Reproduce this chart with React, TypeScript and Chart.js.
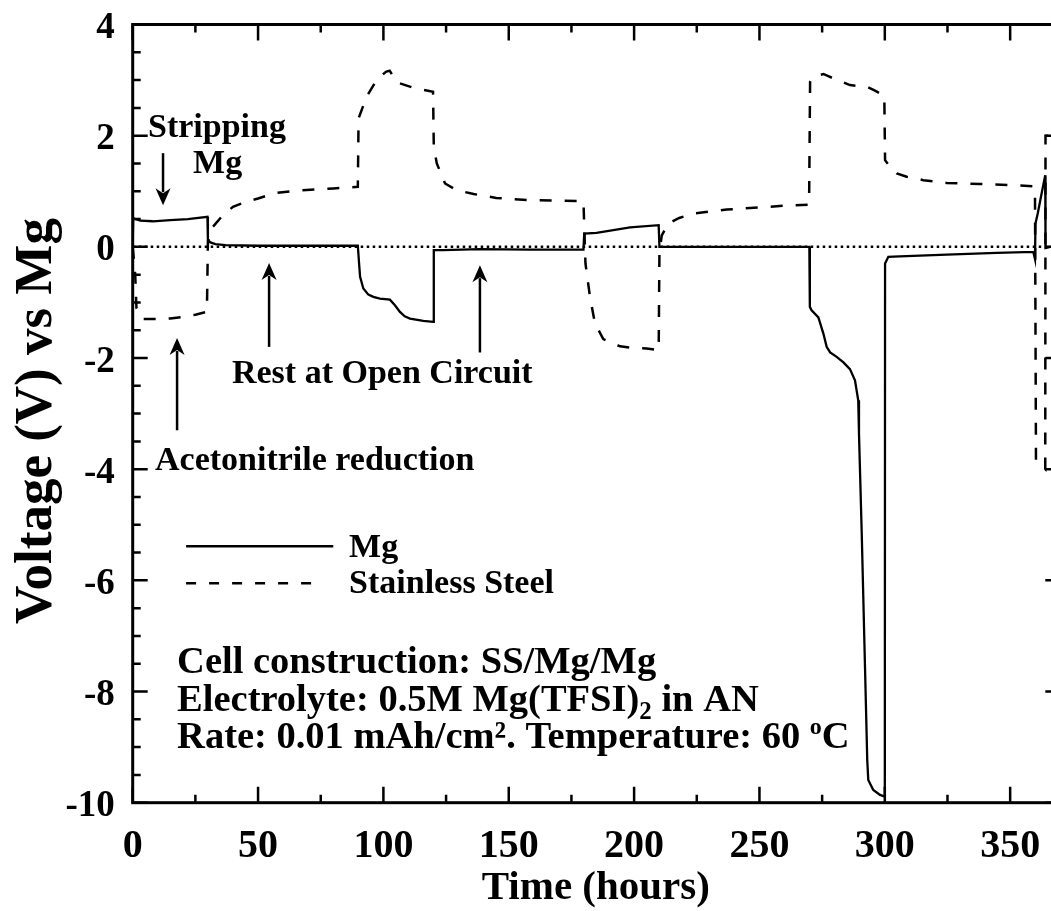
import { useEffect, useRef } from "react";
import { Chart, registerables } from "chart.js";

Chart.register(...registerables);

// Axis ranges and tick layout
const X_MIN = 0;
const X_MAX = 370;
const Y_MIN = -10;
const Y_MAX = 4;
const X_MAJOR = 50;
const X_MINOR = 25;
const Y_MAJOR = 2;
const Y_MINOR = 0.5;
const xTickLabels = [0, 50, 100, 150, 200, 250, 300, 350];
const yTickLabels = [-10, -8, -6, -4, -2, 0, 2, 4];

// Mg electrode potential (V vs Mg) over time (hours)
const mgTime = [
  0, 0.2, 1, 3, 8, 15, 22, 29.8, 30, 31, 33, 37, 50, 70, 89.8,
  90.3, 90.7, 92, 94, 96, 98.6, 102.6, 104.6, 106.6, 108.5, 110.6, 115.9, 119.9,
  120.1, 123.9, 138.5, 158.5, 179.8,
  180.1, 185, 191.7, 198.4, 209.8,
  210.1, 240, 269.9,
  270.1, 270.8, 273.5, 275.5, 276.8, 278.2, 280.8, 283.5, 286.1, 288.1, 289.4,
  289.7, 290.8, 292.1, 293.0, 293.4, 295.4, 298.1, 300.0,
  300.1, 301.4, 306, 324.7, 344.6, 359.2, 359.9,
  360.1, 361, 362.5, 364, 364.1, 366,
];
const mgVoltage = [
  0, 0.52, 0.5, 0.47, 0.46, 0.48, 0.5, 0.54, 0.12, 0.08, 0.05, 0.03, 0.02, 0.02, 0.02,
  -0.3, -0.54, -0.75, -0.86, -0.9, -0.93, -0.95, -1.05, -1.17, -1.25, -1.29, -1.33, -1.35,
  -0.06, -0.06, -0.04, -0.05, -0.05,
  0.24, 0.25, 0.3, 0.35, 0.39,
  0.0, 0.0, 0.0,
  -1.08, -1.14, -1.27, -1.56, -1.8, -1.9, -1.98, -2.08, -2.2, -2.4, -2.76,
  -3.36, -5.16, -7.56, -9.24, -9.59, -9.77, -9.86, -9.89,
  -0.3, -0.18, -0.17, -0.14, -0.11, -0.09, -0.22,
  0.42, 0.6, 0.95, 1.29, -0.02, 0.0,
];

// Stainless steel electrode potential (V vs Mg) over time (hours)
const ssTime = [
  0, 1.0, 1.5, 4, 10, 15, 20, 25, 29.6,
  30, 32, 36, 40, 45, 50, 57, 65, 80, 89.8,
  90.1, 93.3, 97.3, 101, 102.5, 105.3, 112, 119.8,
  120.1, 121.3, 124.6, 129.2, 136, 145, 158.5, 170, 179.8,
  180.6, 182.4, 184.4, 187.7, 194.4, 200, 205, 209.8,
  210.1, 211, 213.6, 218, 223.6, 237, 250.2, 260, 269.8,
  270.2, 271.5, 275.5, 279.5, 286.1, 292.8, 296.1, 299.8,
  300.1, 302.1, 304.8, 308.7, 315.4, 324.7, 338, 351.3, 359.2,
  359.9, 360.3, 364.0, 364.1, 370,
];
const ssVoltage = [
  0, -0.5, -1.1, -1.3, -1.3, -1.29, -1.26, -1.22, -1.17,
  0.1, 0.36, 0.57, 0.72, 0.81, 0.87, 0.97, 1.01, 1.05, 1.08,
  2.31, 2.7, 3.0, 3.15, 3.17, 2.96, 2.86, 2.79,
  1.8, 1.5, 1.14, 1.02, 0.95, 0.88, 0.84, 0.83, 0.82,
  -0.3, -0.9, -1.38, -1.66, -1.79, -1.82, -1.83, -1.86,
  -0.11, 0.2, 0.42, 0.52, 0.6, 0.67, 0.71, 0.74, 0.76,
  2.97, 3.06, 3.11, 3.03, 2.91, 2.88, 2.81, 2.72,
  1.56, 1.44, 1.32, 1.26, 1.2, 1.15, 1.13, 1.11, 1.09,
  1.05, -3.84, -4.0, 2.0, 2.0,
];

const seriesNames = ["Mg", "Stainless Steel"];

const SERIF = '"Liberation Serif", "Times New Roman", Times, serif';
const boldFont = (size: number) => `bold ${size}px ${SERIF}`;

const CANVAS_W = 1066;
const CANVAS_H = 911;

const SOLID_WIDTH = 2.3;
const DASH_WIDTH = 2.5;
const DASH_PATTERN = [12, 13];

type Run = { t: string; size: number; dy?: number };

function drawRuns(ctx: CanvasRenderingContext2D, x0: number, y0: number, runs: Run[]) {
  let x = x0;
  ctx.textAlign = "left";
  ctx.textBaseline = "alphabetic";
  for (const r of runs) {
    ctx.font = boldFont(r.size);
    ctx.fillText(r.t, x, y0 + (r.dy || 0));
    x += ctx.measureText(r.t).width;
  }
}

function drawArrow(ctx: CanvasRenderingContext2D, x: number, yTail: number, yTip: number) {
  const dir = yTip > yTail ? 1 : -1;
  const headLen = 17;
  const halfW = 7.5;
  ctx.beginPath();
  ctx.moveTo(x, yTail);
  ctx.lineTo(x, yTip - dir * (headLen - 4));
  ctx.stroke();
  ctx.beginPath();
  ctx.moveTo(x, yTip);
  ctx.lineTo(x - halfW, yTip - dir * headLen);
  ctx.lineTo(x, yTip - dir * (headLen - 5));
  ctx.lineTo(x + halfW, yTip - dir * headLen);
  ctx.closePath();
  ctx.fill();
}

const frameAndLabels = {
  id: "frameAndLabels",
  afterDraw(chart: any) {
    const { ctx, chartArea: a } = chart;
    const xs = chart.scales.x;
    const ys = chart.scales.y;
    const xp = (v: number) => xs.getPixelForValue(v);
    const yp = (v: number) => ys.getPixelForValue(v);

    ctx.save();
    ctx.strokeStyle = "#000";
    ctx.fillStyle = "#000";
    ctx.setLineDash([]);

    // plot frame
    ctx.lineWidth = 3;
    ctx.strokeRect(a.left, a.top, a.right - a.left, a.bottom - a.top);

    // inward ticks on all four sides
    ctx.lineWidth = 2.5;
    ctx.beginPath();
    for (let v = X_MIN; v <= X_MAX + 1e-6; v += X_MINOR) {
      const len = Math.abs(v % X_MAJOR) < 1e-6 ? 16 : 8;
      const px = xp(v);
      ctx.moveTo(px, a.bottom);
      ctx.lineTo(px, a.bottom - len);
      ctx.moveTo(px, a.top);
      ctx.lineTo(px, a.top + len);
    }
    for (let v = Y_MIN; v <= Y_MAX + 1e-6; v += Y_MINOR) {
      const len = Math.abs(v % Y_MAJOR) < 1e-6 ? 15 : 8;
      const py = yp(v);
      ctx.moveTo(a.left, py);
      ctx.lineTo(a.left + len, py);
      ctx.moveTo(a.right, py);
      ctx.lineTo(a.right - len, py);
    }
    ctx.stroke();

    // tick labels
    ctx.font = boldFont(40);
    ctx.textAlign = "center";
    ctx.textBaseline = "alphabetic";
    for (const v of xTickLabels) ctx.fillText(String(v), xp(v), a.bottom + 54);
    ctx.font = boldFont(37);
    ctx.textAlign = "right";
    for (const v of yTickLabels) ctx.fillText(String(v), a.left - 18, yp(v) + 13.5);

    // axis titles
    ctx.font = boldFont(41);
    ctx.textAlign = "center";
    ctx.fillText("Time (hours)", (a.left + 1051) / 2 + 4, 899);
    ctx.save();
    ctx.translate(51, 421);
    ctx.rotate(-Math.PI / 2);
    ctx.font = boldFont(53);
    ctx.fillText("Voltage (V) vs Mg", 0, 0);
    ctx.restore();

    // annotations
    drawRuns(ctx, xp(6.1), yp(1.97), [{ t: "Stripping", size: 34 }]);
    drawRuns(ctx, xp(24.1), yp(1.325), [{ t: "Mg", size: 34 }]);
    drawRuns(ctx, xp(39.6), yp(-2.45), [{ t: "Rest at Open Circuit", size: 34 }]);
    drawRuns(ctx, xp(8.9), yp(-4.02), [{ t: "Acetonitrile reduction", size: 34 }]);

    ctx.lineWidth = 2.5;
    drawArrow(ctx, xp(12.1), yp(1.685), yp(0.75));
    drawArrow(ctx, xp(17.7), yp(-3.3), yp(-1.64));
    drawArrow(ctx, xp(54.4), yp(-1.8), yp(-0.29));
    drawArrow(ctx, xp(138.5), yp(-1.9), yp(-0.33));

    // legend
    ctx.lineWidth = SOLID_WIDTH + 0.2;
    ctx.beginPath();
    ctx.moveTo(xp(21.3), yp(-5.385));
    ctx.lineTo(xp(80), yp(-5.385));
    ctx.stroke();
    ctx.lineWidth = DASH_WIDTH;
    ctx.setLineDash([10, 13]);
    ctx.beginPath();
    ctx.moveTo(xp(21.3), yp(-6.05));
    ctx.lineTo(xp(76), yp(-6.05));
    ctx.stroke();
    ctx.setLineDash([]);
    drawRuns(ctx, xp(86.3), yp(-5.58), [{ t: seriesNames[0], size: 34 }]);
    drawRuns(ctx, xp(86.3), yp(-6.23), [{ t: seriesNames[1], size: 34 }]);

    // cell information
    drawRuns(ctx, xp(17.7), yp(-7.67), [{ t: "Cell construction: SS/Mg/Mg", size: 38.5 }]);
    drawRuns(ctx, xp(17.7), yp(-8.35), [
      { t: "Electrolyte: 0.5M Mg(TFSI)", size: 38.5 },
      { t: "2", size: 25, dy: 8 },
      { t: " in AN", size: 38.5 },
    ]);
    drawRuns(ctx, xp(17.7), yp(-9.02), [
      { t: "Rate: 0.01 mAh/cm². Temperature: 60 ", size: 38.5 },
      { t: "o", size: 24, dy: -14 },
      { t: "C", size: 38.5 },
    ]);

    ctx.restore();
  },
};

const toPoints = (xs: number[], ys: number[]) => xs.map((x, i) => ({ x, y: ys[i] }));

export default function App() {
  const ref = useRef<HTMLCanvasElement>(null);

  useEffect(() => {
    const canvas = ref.current;
    if (!canvas) return;
    const chart = new Chart(canvas, {
      type: "line",
      data: {
        datasets: [
          {
            label: seriesNames[0],
            data: toPoints(mgTime, mgVoltage),
            borderColor: "#000",
            borderWidth: SOLID_WIDTH,
            pointRadius: 0,
            tension: 0,
            order: 1,
          },
          {
            label: seriesNames[1],
            data: toPoints(ssTime, ssVoltage),
            borderColor: "#000",
            borderWidth: DASH_WIDTH,
            borderDash: DASH_PATTERN,
            pointRadius: 0,
            tension: 0,
            order: 2,
          },
          {
            label: "zero",
            data: toPoints([X_MIN, X_MAX], [0, 0]),
            borderColor: "#000",
            borderWidth: 2.5,
            borderDash: [2.5, 3.5],
            pointRadius: 0,
            order: 3,
          },
        ],
      },
      options: {
        animation: false,
        responsive: false,
        devicePixelRatio: 1,
        events: [],
        layout: {
          padding: { left: 132.7, top: 24.5, right: CANVAS_W - 1060.3, bottom: CANVAS_H - 802.7 },
        },
        plugins: { legend: { display: false }, tooltip: { enabled: false } },
        scales: {
          x: { type: "linear", min: X_MIN, max: X_MAX, display: false },
          y: { type: "linear", min: Y_MIN, max: Y_MAX, display: false },
        },
      },
      plugins: [frameAndLabels],
    });
    return () => chart.destroy();
  }, []);

  return (
    <div
      style={{
        position: "fixed",
        left: 0,
        top: 0,
        width: 1051,
        height: 911,
        overflow: "hidden",
        background: "#fff",
      }}
    >
      <canvas
        ref={ref}
        width={CANVAS_W}
        height={CANVAS_H}
        style={{ display: "block", width: CANVAS_W, height: CANVAS_H }}
      />
    </div>
  );
}
